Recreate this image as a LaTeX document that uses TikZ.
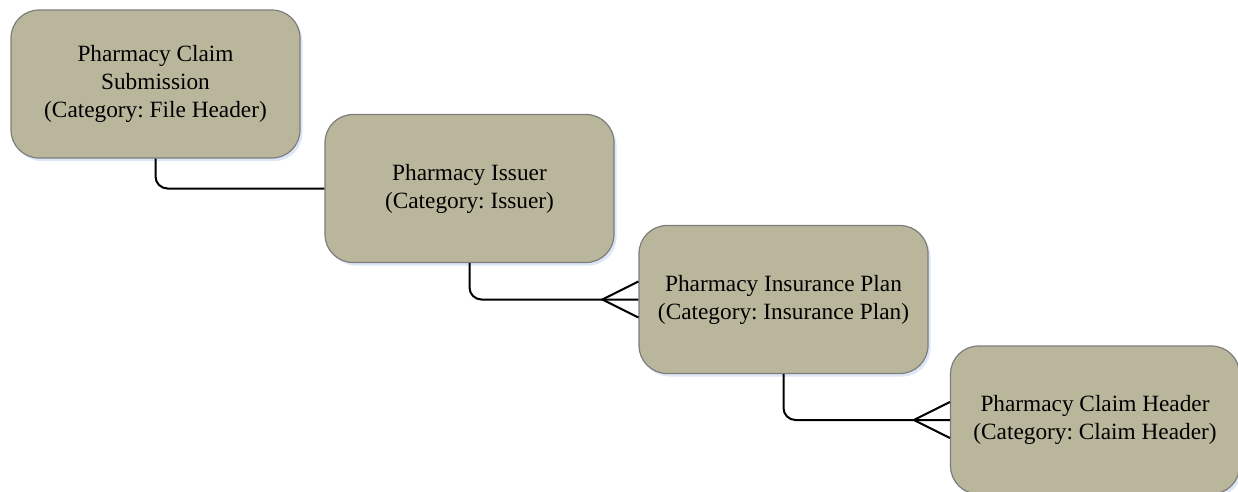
\documentclass[tikz,border=0pt]{standalone}
\usepackage{fontspec}
\setmainfont{Liberation Serif}
\frenchspacing
\usetikzlibrary{shadows}
\definecolor{boxfill}{RGB}{185,182,156}
\definecolor{boxline}{RGB}{125,125,125}
\definecolor{glow}{RGB}{200,215,240}
\tikzset{
  entity/.style={draw=boxline, line width=1.2pt, fill=boxfill, rounded corners=28pt,
    minimum width=289pt, minimum height=148pt, align=center, inner sep=0pt,
    font=\fontsize{23.3pt}{28pt}\selectfont,
    drop shadow={shadow xshift=2.5pt, shadow yshift=-3pt, fill=glow, opacity=0.6}},
  conn/.style={line width=2pt, black, rounded corners=12pt},
  foot/.style={line width=2pt, black}
}
\begin{document}
\begin{tikzpicture}[x=1pt, y=-1pt]
\useasboundingbox (0,0) rectangle (1238,491);
\node[entity] (b1) at (155.5,84) {Pharmacy Claim\\Submission\\(Category: File Header)};
\node[entity] (b2) at (469.5,188.5) {Pharmacy Issuer\\(Category: Issuer)};
\node[entity] (b3) at (783.5,299.5) {Pharmacy Insurance Plan\\(Category: Insurance Plan)};
\node[entity] (b4) at (1095,420) {Pharmacy Claim Header\\(Category: Claim Header)};
% one-to-one link
\draw[conn] (b1.south) |- (b2.west);
% one-to-many links with crow's feet
\draw[conn] (b2.south) |- (b3.west);
\coordinate (f3) at ([xshift=-36pt]b3.west);
\draw[foot] ([yshift=-18pt]b3.west) -- (f3) -- ([yshift=18pt]b3.west);
\draw[conn] (b3.south) |- (b4.west);
\coordinate (f4) at ([xshift=-36pt]b4.west);
\draw[foot] ([yshift=-18pt]b4.west) -- (f4) -- ([yshift=18pt]b4.west);
\end{tikzpicture}
\end{document}
